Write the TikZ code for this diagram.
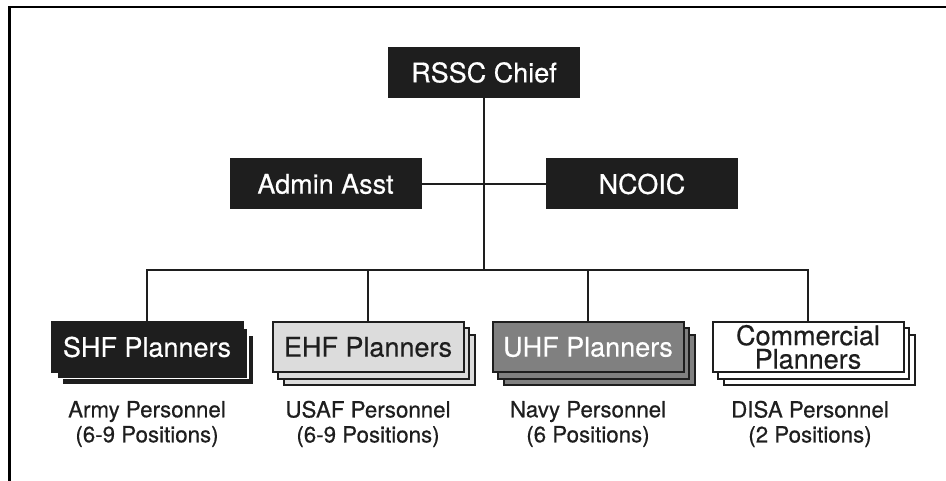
\documentclass[tikz,border=0pt]{standalone}
\usepackage{fontspec}
\setmainfont[FakeBold=0.5,AutoFakeBold=0.5]{TeX Gyre Heros}
\definecolor{boxblack}{RGB}{30,30,30}
\definecolor{boxlight}{RGB}{220,220,220}
\definecolor{boxmid}{RGB}{128,128,128}
\begin{document}
\begin{tikzpicture}[x=1pt,y=-1pt,
  topbox/.style={rectangle, fill=boxblack, text=white, minimum width=192pt, minimum height=51pt, inner sep=0pt, font=\fontsize{27}{27}\selectfont\bfseries},
  pbox/.style={rectangle, draw=boxblack, line width=2pt, minimum width=191pt, minimum height=50pt, inner sep=0pt, align=center, font=\fontsize{27}{23.5}\selectfont\bfseries},
  blacklayer/.style={pbox, fill=boxblack, draw=white, line width=1.4pt},
  sublabel/.style={align=center, font=\fontsize{22.3}{25}\selectfont\bfseries, text=boxblack},
  link/.style={draw=boxblack, line width=2pt},
  frame/.style={draw=black, line width=2.8pt}]
\useasboundingbox (0,0) rectangle (946,481);
\fill[white] (0,0) rectangle (946,481);
% frame (left and top only, as cropped)
\draw[frame] (9.5,481) -- (9.5,7) -- (946,7);
% top boxes
\node[topbox] (rssc) at (484,72.5) {RSSC Chief};
\node[topbox] (admin) at (325.5,184) {Admin Asst};
\node[topbox] (ncoic) at (642,184) {NCOIC};
% SHF stack
\node[blacklayer] (shf3) at (158,360) {};
\node[blacklayer] (shf2) at (152.5,353.5) {};
\node[pbox, fill=boxblack, text=white] (shf) at (147,347) {SHF Planners};
% EHF stack
\node[pbox, fill=boxlight] (ehf3) at (379,360) {};
\node[pbox, fill=boxlight] (ehf2) at (373.5,353.5) {};
\node[pbox, fill=boxlight, text=boxblack] (ehf) at (368,347) {EHF Planners};
% UHF stack
\node[pbox, fill=boxmid] (uhf3) at (599,360) {};
\node[pbox, fill=boxmid] (uhf2) at (593.5,353.5) {};
\node[pbox, fill=boxmid, text=white] (uhf) at (588,347) {UHF Planners};
% Commercial stack
\node[pbox, fill=white] (comm3) at (819,360) {};
\node[pbox, fill=white] (comm2) at (813.5,353.5) {};
\node[pbox, fill=white, text=boxblack] (comm) at (808,347) {Commercial\\Planners};
% bus
\coordinate (bus) at (484,270);
\draw[link] (rssc.south) -- (bus);
\draw[link] (admin.east) -- (ncoic.west);
\draw[link] (shf.north) -- (shf.north |- bus) -- (comm.north |- bus) -- (comm.north);
\draw[link] (ehf.north) -- (ehf.north |- bus);
\draw[link] (uhf.north) -- (uhf.north |- bus);
% sublabels
\node[sublabel] (lshf) at (147,424) {Army Personnel\\(6-9 Positions)};
\node[sublabel] (lehf) at (368,424) {USAF Personnel\\(6-9 Positions)};
\node[sublabel] (luhf) at (588,424) {Navy Personnel\\(6 Positions)};
\node[sublabel] (lcomm) at (810,424) {DISA Personnel\\(2 Positions)};
\end{tikzpicture}
\end{document}
